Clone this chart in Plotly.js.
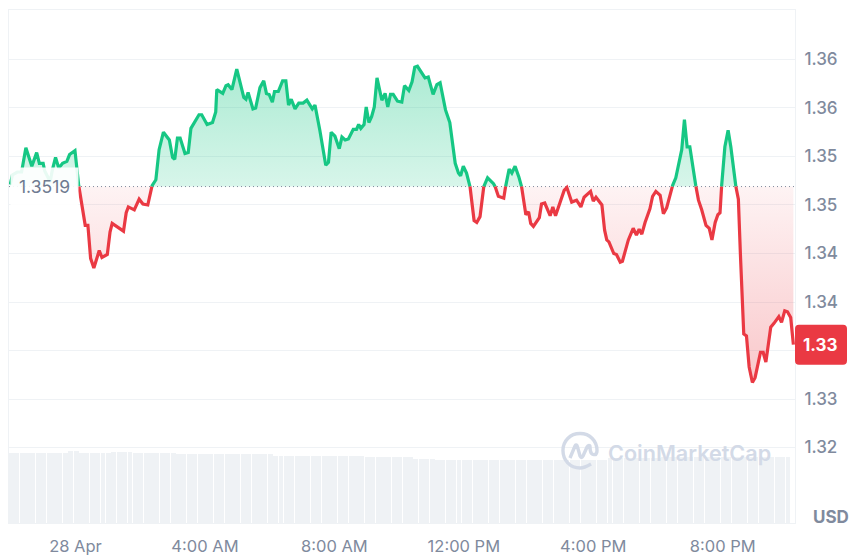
<!DOCTYPE html>
<html>
<head>
<meta charset="utf-8">
<script src="https://cdn.plot.ly/plotly-3.0.1.min.js"></script>
<style>html,body{margin:0;padding:0;background:#fff}</style>
</head>
<body>
<div id="chart" style="width:850px;height:555px"></div>
<script>
// minutes from midnight on 28 Apr, and price in USD
const priceTimes = [-121,-117,-108,-100,-92,-81,-72,-67,-60,-57,-47,-43,-37,-31,-24,-16,-11,-1,6,18,23,28,34,44,49,59,64,68,89,94,98,109,118,125,134,142,149,155,163,174,180,184,189,194,203,209,214,218,229,234,244,254,260,262,273,279,283,290,299,312,316,320,329,334,342,349,354,359,365,369,376,384,390,395,400,407,414,422,429,439,444,453,464,469,474,481,489,494,500,506,515,521,525,529,535,539,544,549,554,559,568,574,579,584,589,597,605,610,618,624,629,634,648,654,663,670,676,686,694,704,710,714,719,725,731,739,744,750,757,764,775,778,784,794,798,804,809,815,822,827,835,840,844,849,860,864,870,880,885,890,898,906,911,920,929,937,943,955,960,965,976,981,985,989,998,1003,1010,1014,1025,1034,1040,1045,1050,1056,1065,1070,1076,1084,1090,1096,1107,1113,1119,1124,1129,1134,1139,1144,1150,1155,1161,1169,1175,1180,1186,1191,1195,1198,1204,1210,1215,1224,1229,1233,1239,1244,1249,1255,1260,1270,1275,1280,1289,1295,1304,1309,1315,1320,1326,1331];
const priceValues = [1.3521,1.3531,1.3534,1.3534,1.3559,1.3540,1.3554,1.3543,1.3543,1.3535,1.3524,1.3536,1.3549,1.3538,1.3543,1.3545,1.3552,1.3556,1.3520,1.3479,1.3479,1.3445,1.3435,1.3453,1.3446,1.3449,1.3472,1.3481,1.3473,1.3492,1.3498,1.3495,1.3506,1.3501,1.3500,1.3520,1.3526,1.3557,1.3575,1.3567,1.3549,1.3547,1.3569,1.3569,1.3553,1.3554,1.3579,1.3583,1.3593,1.3593,1.3583,1.3585,1.3596,1.3619,1.3615,1.3623,1.3624,1.3619,1.3640,1.3611,1.3609,1.3616,1.3599,1.3600,1.3621,1.3628,1.3615,1.3614,1.3606,1.3617,1.3617,1.3628,1.3628,1.3603,1.3609,1.3599,1.3605,1.3605,1.3608,1.3599,1.3603,1.3577,1.3541,1.3544,1.3575,1.3571,1.3558,1.3570,1.3567,1.3568,1.3578,1.3578,1.3583,1.3579,1.3583,1.3601,1.3585,1.3591,1.3601,1.3631,1.3608,1.3615,1.3601,1.3614,1.3614,1.3607,1.3606,1.3623,1.3618,1.3627,1.3642,1.3643,1.3631,1.3632,1.3614,1.3624,1.3626,1.3598,1.3585,1.3543,1.3533,1.3530,1.3540,1.3533,1.3521,1.3484,1.3482,1.3488,1.3519,1.3528,1.3522,1.3519,1.3509,1.3507,1.3521,1.3537,1.3533,1.3540,1.3529,1.3519,1.3490,1.3493,1.3481,1.3478,1.3487,1.3501,1.3502,1.3489,1.3498,1.3489,1.3502,1.3515,1.3518,1.3503,1.3505,1.3498,1.3508,1.3514,1.3504,1.3508,1.3500,1.3474,1.3464,1.3462,1.3450,1.3449,1.3441,1.3442,1.3464,1.3476,1.3469,1.3475,1.3470,1.3482,1.3496,1.3509,1.3514,1.3510,1.3491,1.3497,1.3520,1.3528,1.3546,1.3557,1.3588,1.3560,1.3560,1.3539,1.3520,1.3505,1.3495,1.3479,1.3476,1.3464,1.3482,1.3490,1.3492,1.3520,1.3560,1.3577,1.3560,1.3520,1.3506,1.3446,1.3367,1.3365,1.3333,1.3317,1.3322,1.3348,1.3348,1.3338,1.3374,1.3378,1.3385,1.3379,1.3391,1.3390,1.3384,1.3356];
const basePrice = 1.3519;

// volume per 10 minute bar, as runs: level holds until the matching end minute
const volumeEnds = [-16,5,68,107,181,361,540,622,661,987,1084,1330];
const volumeLevels = [70,72,70,71,70,69,67,65.7,64,63,64.7,65.7];
const volumeStart = -119;

// the 1.335 label sits under the price tag in the picture, so it stays blank
const yTicks = [1.365,1.36,1.355,1.35,1.345,1.34,1.335,1.33,1.325];
const yTickLabels = ['1.36','1.36','1.35','1.35','1.34','1.34','','1.33','1.32'];
const xTicks = [0,240,480,720,960,1200];
const xTickLabels = ['28 Apr','4:00 AM','8:00 AM','12:00 PM','4:00 PM','8:00 PM'];

const GREEN = '#16c784', RED = '#ea3943', GREY = '#808a9d', GRID = '#eff2f5', BAR = '#eff2f5', MARK = '#d3dae7';

// add a point wherever the price crosses the base so the colour switch is clean
const t = [], v = [];
priceTimes.forEach((tm, i) => {
    if (i > 0) {
        const a = priceValues[i - 1], b = priceValues[i];
        if ((a - basePrice) * (b - basePrice) < 0) {
            t.push(priceTimes[i - 1] + (tm - priceTimes[i - 1]) * (basePrice - a) / (b - a));
            v.push(basePrice);
        }
    }
    t.push(tm);
    v.push(priceValues[i]);
});

const volX = [], volY = [];
let block = 0;
for (let m = volumeStart; m <= 1326; m += 10) {
    while (m > volumeEnds[block]) block++;
    volX.push(m);
    volY.push(volumeLevels[block]);
}

const baseLine = { x: t, y: t.map(() => basePrice), mode: 'lines', line: { width: 0 }, hoverinfo: 'skip' };

const traces = [
    baseLine,
    { x: t, y: v.map(p => Math.max(p, basePrice)), mode: 'lines', line: { width: 0 }, fill: 'tonexty',
      fillgradient: { type: 'vertical', start: 1.365, stop: basePrice,
                      colorscale: [[0, 'rgba(22,199,132,0.37)'], [1, 'rgba(22,199,132,0.17)']] } },
    baseLine,
    { x: t, y: v.map(p => Math.min(p, basePrice)), mode: 'lines', line: { width: 0 }, fill: 'tonexty',
      fillgradient: { type: 'vertical', start: basePrice, stop: 1.3317,
                      colorscale: [[0, 'rgba(234,57,67,0.06)'], [1, 'rgba(234,57,67,0.28)']] } },
    { x: [-123.3, 1334], y: [basePrice, basePrice], mode: 'lines', line: { color: GREY, width: 1, dash: '1px,3px' } },
    { x: t, y: v.map(p => p >= basePrice ? p : null), mode: 'lines', line: { color: GREEN, width: 3.2 } },
    { x: t, y: v.map(p => p <= basePrice ? p : null), mode: 'lines', line: { color: RED, width: 3.2 } },
    { x: volX, y: volY, type: 'bar', yaxis: 'y2', width: 9.2, marker: { color: BAR, line: { width: 0 } } },
];

// logo of the watermark, written in page pixels
const px = x => ((x - 9) / 786).toFixed(4);
const py = y => ((523 - y) / 513).toFixed(4);
const logoPath = pts => pts.map(p => p[0] + (p[1] === undefined ? '' : p.slice(1).map((n, i) => (i % 2 ? py(n) : px(n))).join(','))).join(' ');
const logoRing = logoPath([['M', 591, 464], ['C', 586, 467, 583, 468, 580, 468], ['C', 570, 468, 563, 460, 563, 450.5],
    ['C', 563, 441, 570, 433.5, 580, 433.5], ['C', 590, 433.5, 597, 441, 597, 450.5], ['C', 597, 452, 596.5, 454, 595, 455]]);
const logoWave = logoPath([['M', 570, 458], ['L', 575, 446], ['C', 576, 444, 577, 445, 577.5, 447], ['L', 580, 456],
    ['C', 581, 458, 582, 458, 583, 456], ['L', 587, 447], ['C', 588, 445, 590, 445, 590, 447], ['C', 590, 453, 592, 456, 596, 454]]);

const layout = {
    width: 850, height: 555, autosize: false,
    margin: { l: 9, r: 55, t: 10, b: 32, pad: 0 },
    paper_bgcolor: '#fff', plot_bgcolor: '#fff',
    font: { family: 'Inter, sans-serif', color: GREY, size: 16 },
    showlegend: false, hovermode: false, bargap: 0,
    xaxis: { range: [-123.3, 1334], tickvals: xTicks, ticktext: xTickLabels, showgrid: false, zeroline: false,
             showline: true, linecolor: GRID, linewidth: 1, mirror: true, ticks: '', ticklabelstandoff: 8,
             tickfont: { size: 16.5, color: GREY } },
    yaxis: { range: [1.31722, 1.3701], side: 'right', tickvals: yTicks, ticktext: yTickLabels, gridcolor: GRID, gridwidth: 1,
             zeroline: false, showline: true, linecolor: GRID, linewidth: 1, mirror: true, ticks: '', ticklabelstandoff: 5,
             tickfont: { size: 17, color: GREY, weight: 500 } },
    yaxis2: { range: [0, 513], overlaying: 'y', side: 'right', visible: false },
    shapes: [
        { type: 'path', layer: 'above', xref: 'paper', yref: 'y', xsizemode: 'pixel', ysizemode: 'pixel', xanchor: 1, yanchor: 1.3356,
          path: 'M 0,-16 Q 0,-20 4,-20 L 48,-20 Q 52,-20 52,-16 L 52,16 Q 52,20 48,20 L 4,20 Q 0,20 0,16 Z',
          fillcolor: RED, line: { width: 0 } },
        { type: 'path', layer: 'above', xref: 'paper', yref: 'paper', path: logoRing, line: { color: MARK, width: 3.4 } },
        { type: 'path', layer: 'above', xref: 'paper', yref: 'paper', path: logoWave, line: { color: MARK, width: 3.4 } },
    ],
    annotations: [
        { xref: 'paper', yref: 'y', x: 0, y: basePrice, xanchor: 'left', xshift: 1, yshift: 0, showarrow: false, text: '1.3519',
          font: { size: 17.5, color: '#6f7b91' }, bgcolor: 'rgba(255,255,255,0.9)', borderpad: 8 },
        { xref: 'paper', yref: 'y', x: 1, y: 1.3356, xanchor: 'center', xshift: 25, showarrow: false, text: '<b>1.33</b>',
          font: { size: 17, color: '#fff' } },
        { xref: 'paper', yref: 'paper', x: 1, y: 0, xanchor: 'center', yanchor: 'middle', xshift: 36, yshift: 6, showarrow: false, text: '<b>USD</b>',
          font: { size: 17, color: GREY } },
        { xref: 'paper', yref: 'paper', x: 0.7595, y: 0.1365, xanchor: 'left', yanchor: 'middle', showarrow: false, text: 'CoinMarketCap',
          font: { size: 21.6, color: MARK, weight: 600 } },
    ],
};

Plotly.newPlot('chart', traces, layout, { displayModeBar: false, staticPlot: true });
</script>
</body>
</html>
